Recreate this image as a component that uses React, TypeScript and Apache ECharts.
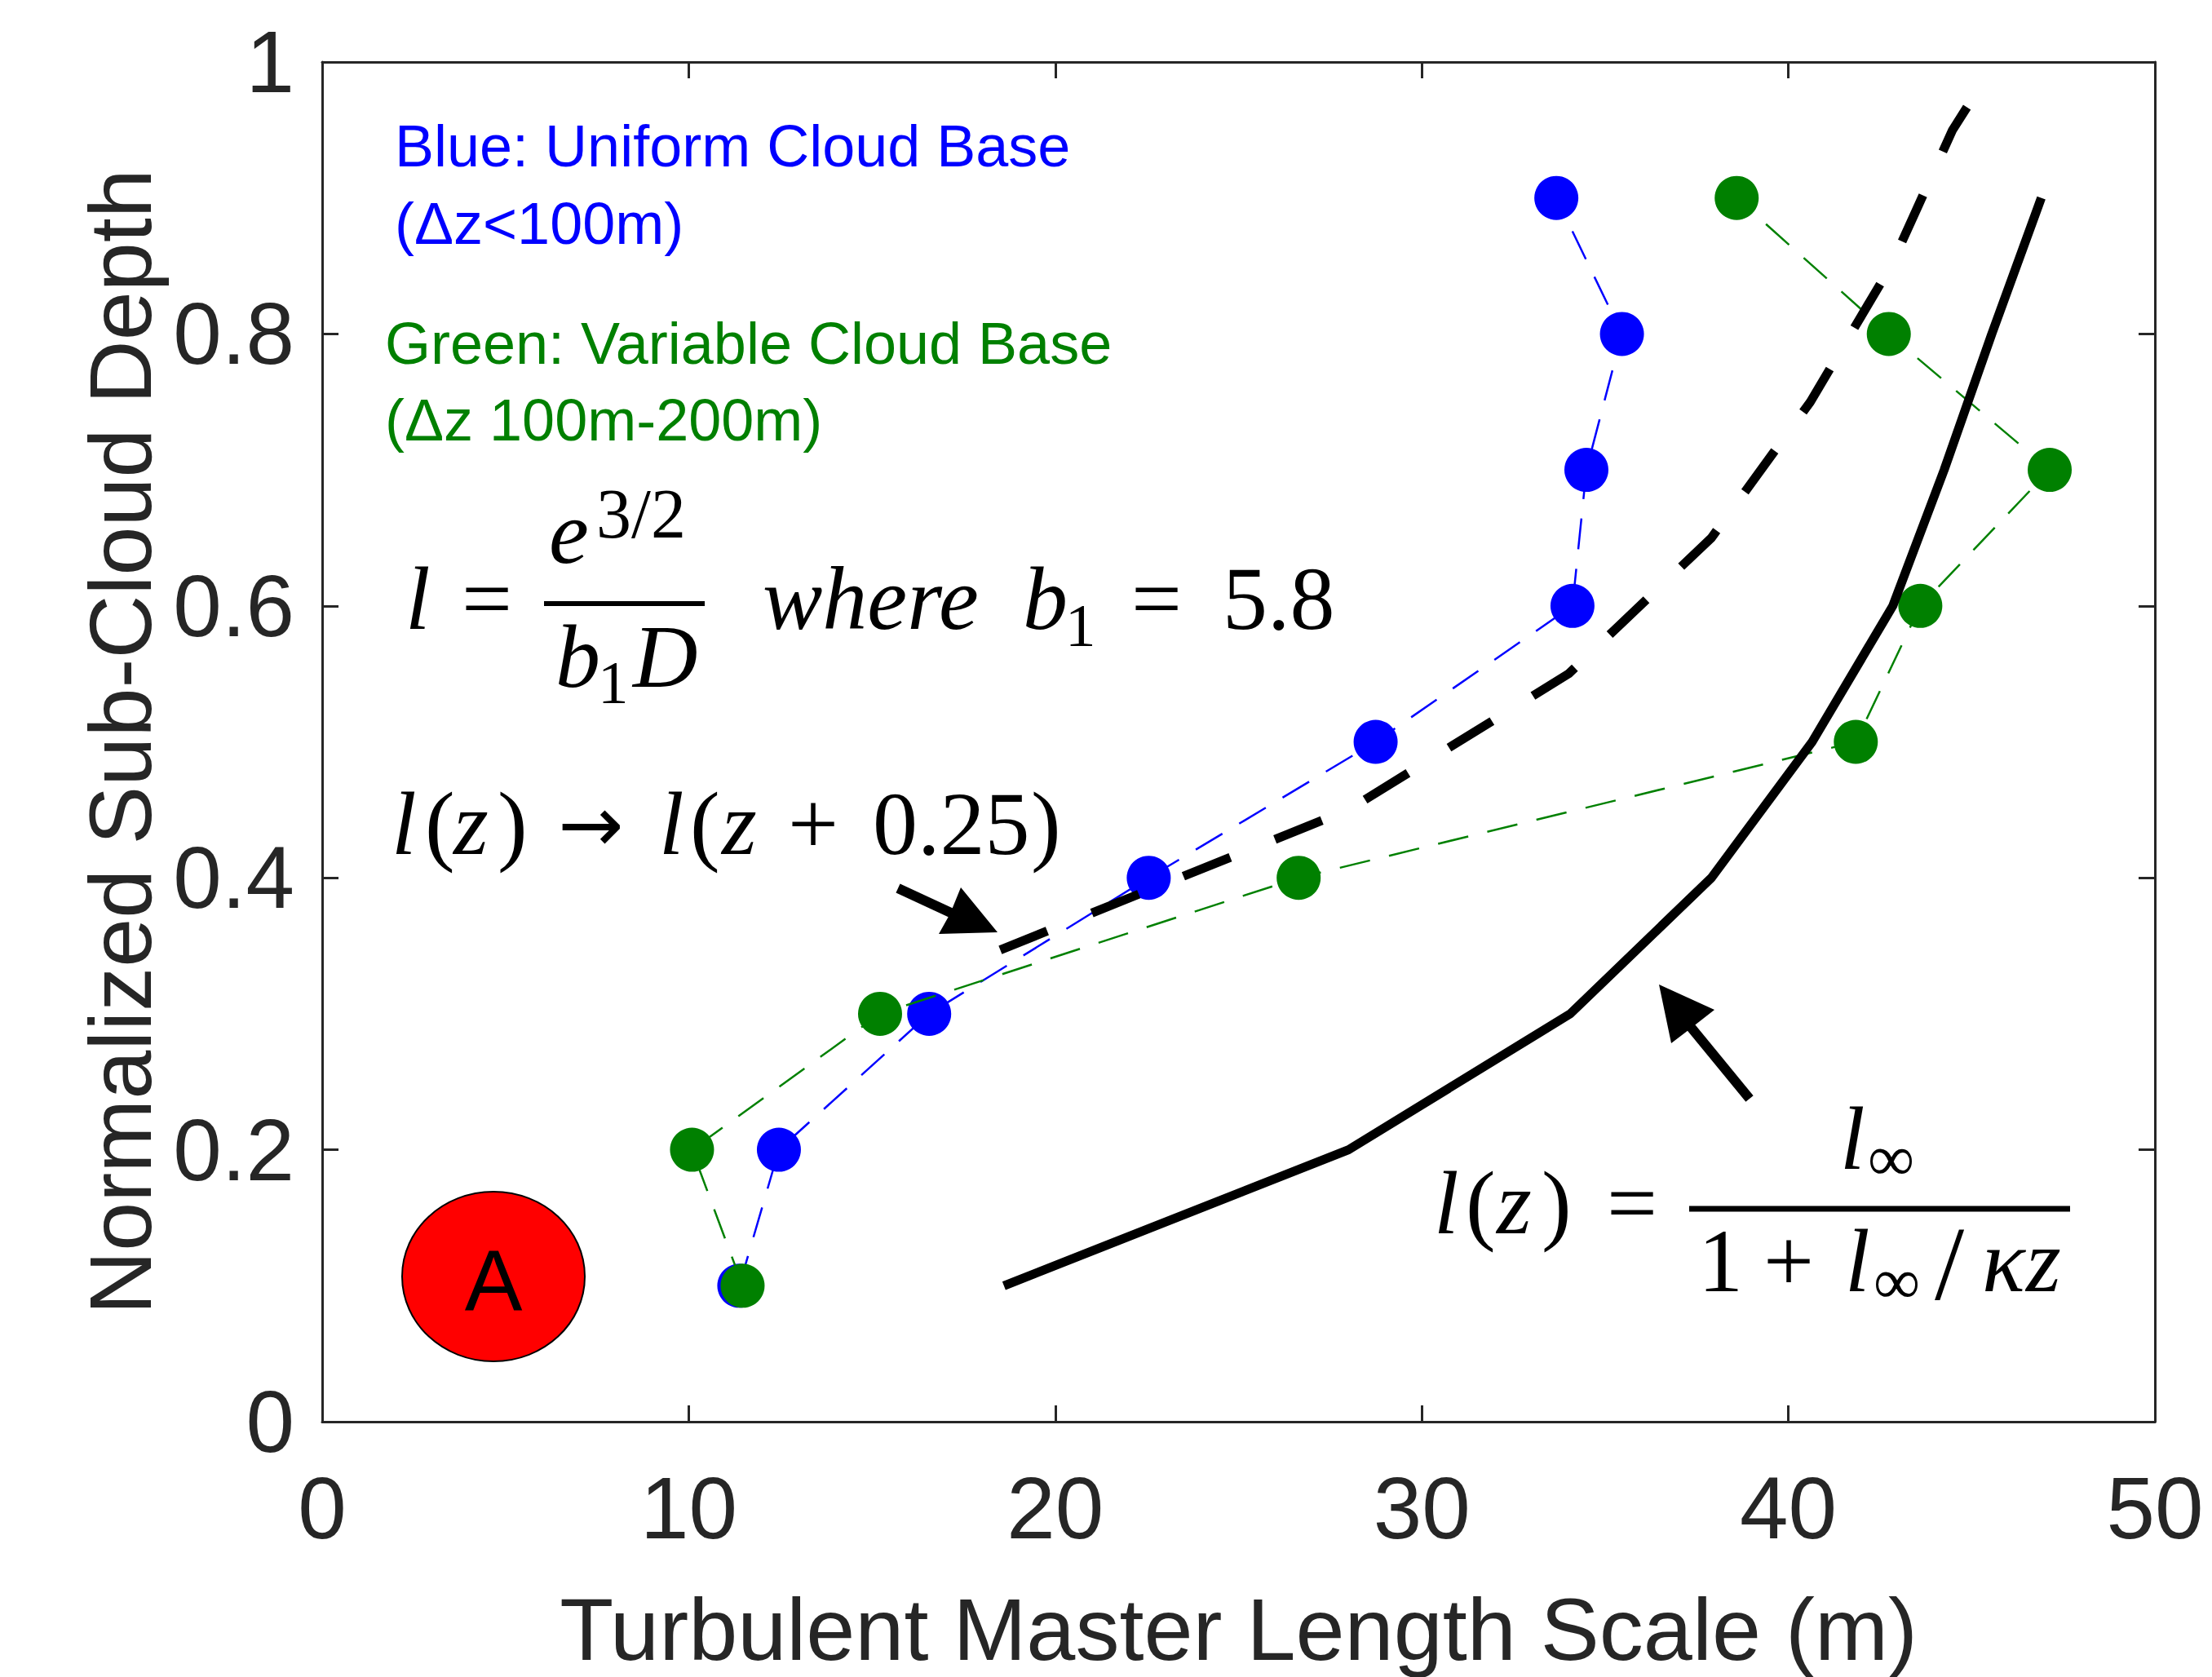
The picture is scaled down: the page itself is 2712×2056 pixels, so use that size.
import React, { useEffect, useRef } from "react";
import * as echarts from "echarts";

// ---- data ----
const depth = [0.1, 0.2, 0.3, 0.4, 0.5, 0.6, 0.7, 0.8, 0.9];
const blueLength = [11.38, 12.46, 16.56, 22.55, 28.74, 34.11, 34.49, 35.46, 33.67];
const greenLength = [11.47, 10.09, 15.22, 26.64, 41.84, 43.6, 47.13, 42.74, 38.59];
const modelLength = [18.6, 28.0, 34.05, 37.9, 40.65, 42.85, 44.25, 45.55, 46.9];
const shiftedDepth = [0.347, 0.45, 0.55, 0.65, 0.75, 0.85, 0.95, 0.967];
const shiftedLength = [18.5, 28.0, 34.0, 37.9, 40.6, 42.8, 44.48, 44.88];

const xAxisName = "Turbulent Master Length Scale (m)";
const yAxisName = "Normalized Sub-Cloud Depth";
const blueNote = ["Blue: Uniform Cloud Base", "(\u0394z<100m)"];
const greenNote = ["Green: Variable Cloud Base", "(\u0394z 100m-200m)"];

const SANS = "'Liberation Sans', Arial, sans-serif";
const SERIF = "'Liberation Serif', 'DejaVu Serif', serif";
const DEJAVU = "'DejaVu Sans', sans-serif";
const AX = "#262626";

const pairs = (xs: number[], ys: number[]) => xs.map((x, i) => [x, ys[i]]);

function txt(text: string, x: number, base: number, size: number, opts: any = {}) {
  const family = opts.family || (opts.sans ? SANS : SERIF);
  const off = opts.sans ? 0.3465 : opts.family === DEJAVU ? 0.38 : 0.3375;
  const font = `${opts.italic ? "italic " : ""}${size}px ${family}`;
  return {
    type: "text",
    x,
    y: base - off * size,
    z: 100,
    style: {
      text,
      font,
      fill: opts.color || "#000",
      align: opts.align || "left",
      textAlign: opts.align || "left",
      verticalAlign: "middle",
      textVerticalAlign: "middle",
    },
  };
}

function hline(x1: number, x2: number, y: number, w: number) {
  return { type: "line", z: 100, shape: { x1, y1: y, x2, y2: y }, style: { stroke: "#000", lineWidth: w } };
}

function arrow(tail: number[], neck: number[], head: number[][]) {
  return [
    { type: "line", z: 100, shape: { x1: tail[0], y1: tail[1], x2: neck[0], y2: neck[1] }, style: { stroke: "#000", lineWidth: 12 } },
    { type: "polygon", z: 100, shape: { points: head }, style: { fill: "#000" } },
  ];
}

export default function App() {
  const ref = useRef<HTMLDivElement>(null);
  useEffect(() => {
    if (!ref.current) return;
    const chart = echarts.init(ref.current, undefined, { renderer: "svg" });
    const F = 110;
    const graphic: any[] = [
      // notes
      txt(blueNote[0], 484, 204, 72, { sans: true, color: "#0000FF" }),
      txt(blueNote[1], 484, 299, 72, { sans: true, color: "#0000FF" }),
      txt(greenNote[0], 472, 446, 72, { sans: true, color: "#008000" }),
      txt(greenNote[1], 472, 540, 72, { sans: true, color: "#008000" }),
      // equation 1
      txt("l", 497, 771, F, { italic: true }),
      txt("=", 566, 771, F),
      hline(667, 864, 740, 6),
      txt("e", 673, 690, F, { italic: true }),
      txt("3/2", 731, 659, 86),
      txt("b", 681, 842, F, { italic: true }),
      txt("1", 733, 862, 75),
      txt("D", 776, 842, F, { italic: true }),
      txt("where", 935, 771, F, { italic: true }),
      txt("b", 1254, 771, F, { italic: true }),
      txt("1", 1306, 792, 75),
      txt("=", 1387, 771, F),
      txt("5.8", 1499, 771, F),
      // equation 2
      txt("l", 480, 1047, F, { italic: true }),
      txt("(", 521, 1047, F),
      txt("z", 556, 1047, F, { italic: true }),
      txt(")", 610, 1047, F),
      txt("\u2192", 684, 1047, 96, { family: DEJAVU }),
      txt("l", 808, 1047, F, { italic: true }),
      txt("(", 846, 1047, F),
      txt("z", 885, 1047, F, { italic: true }),
      txt("+", 966, 1047, F),
      txt("0.25", 1070, 1047, F),
      txt(")", 1264, 1047, F),
      // equation 3
      txt("l", 1758, 1512, F, { italic: true }),
      txt("(", 1797, 1512, F),
      txt("z", 1835, 1512, F, { italic: true }),
      txt(")", 1890, 1512, F),
      txt("=", 1970, 1512, F),
      hline(2071, 2538, 1482, 7),
      txt("l", 2256, 1433, F, { italic: true }),
      txt("\u221E", 2290, 1447, 80),
      txt("1", 2082, 1583, F),
      txt("+", 2162, 1583, F),
      txt("l", 2262, 1583, F, { italic: true }),
      txt("\u221E", 2297, 1598, 80),
      txt("/", 2372, 1593, 130),
      txt("\u03BA", 2430, 1583, F, { italic: true }),
      txt("z", 2484, 1583, F, { italic: true }),
      // red badge
      {
        type: "ellipse",
        z: 100,
        shape: { cx: 605, cy: 1565, rx: 112, ry: 104 },
        style: { fill: "#FF0000", stroke: "#000", lineWidth: 2 },
      },
      txt("A", 605, 1606, 106, { sans: true, align: "center" }),
      ...arrow([1101, 1089], [1170, 1121], [[1223, 1143], [1151, 1145], [1165, 1120], [1178, 1088]]),
      ...arrow([2145, 1347], [2072, 1258], [[2034, 1207], [2102, 1238], [2070, 1263], [2049, 1279]]),
    ];

    const axisLine = { show: true, onZero: false, lineStyle: { color: AX, width: 3 } };
    const axisTick = { show: true, inside: true, length: 20, lineStyle: { color: AX, width: 3 } };

    chart.setOption({
      animation: false,
      backgroundColor: "#fff",
      grid: { left: 395, top: 76, width: 2247, height: 1671, containLabel: false },
      xAxis: [
        {
          type: "value",
          position: "bottom",
          min: 0,
          max: 50,
          interval: 10,
          axisLine,
          axisTick,
          splitLine: { show: false },
          axisLabel: { fontSize: 107, color: AX, fontFamily: SANS, margin: 52 },
          name: xAxisName,
          nameLocation: "middle",
          nameGap: 200,
          nameTextStyle: { fontSize: 108, color: AX, fontFamily: SANS },
        },
        {
          type: "value",
          position: "top",
          min: 0,
          max: 50,
          interval: 10,
          axisLine,
          axisTick,
          splitLine: { show: false },
          axisLabel: { show: false },
        },
      ],
      yAxis: [
        {
          type: "value",
          position: "left",
          min: 0,
          max: 1,
          interval: 0.2,
          axisLine,
          axisTick,
          splitLine: { show: false },
          axisLabel: { fontSize: 107, color: AX, fontFamily: SANS, margin: 34 },
          name: yAxisName,
          nameLocation: "middle",
          nameGap: 173,
          nameTextStyle: { fontSize: 108, color: AX, fontFamily: SANS },
        },
        {
          type: "value",
          position: "right",
          min: 0,
          max: 1,
          interval: 0.2,
          axisLine,
          axisTick,
          splitLine: { show: false },
          axisLabel: { show: false },
        },
      ],
      series: [
        {
          name: "Uniform",
          type: "line",
          data: pairs(blueLength, depth),
          symbol: "circle",
          symbolSize: 54,
          itemStyle: { color: "#0000FF" },
          lineStyle: { color: "#0000FF", width: 2.5, type: [38, 24] },
          z: 2,
        },
        {
          name: "Variable",
          type: "line",
          data: pairs(greenLength, depth),
          symbol: "circle",
          symbolSize: 54,
          itemStyle: { color: "#008000" },
          lineStyle: { color: "#008000", width: 2.5, type: [38, 24] },
          z: 3,
        },
        {
          name: "Shifted",
          type: "line",
          data: pairs(shiftedLength, shiftedDepth),
          showSymbol: false,
          symbol: "none",
          lineStyle: { color: "#000", width: 11, type: [62, 59] },
          z: 4,
        },
        {
          name: "Model",
          type: "line",
          data: pairs(modelLength, depth),
          showSymbol: false,
          symbol: "none",
          lineStyle: { color: "#000", width: 11 },
          z: 5,
        },
      ],
      graphic,
    });
    return () => chart.dispose();
  }, []);
  return (
    <div
      ref={ref}
      style={{ position: "absolute", left: 0, top: 0, width: 2712, height: 2056, background: "#fff" }}
    />
  );
}
